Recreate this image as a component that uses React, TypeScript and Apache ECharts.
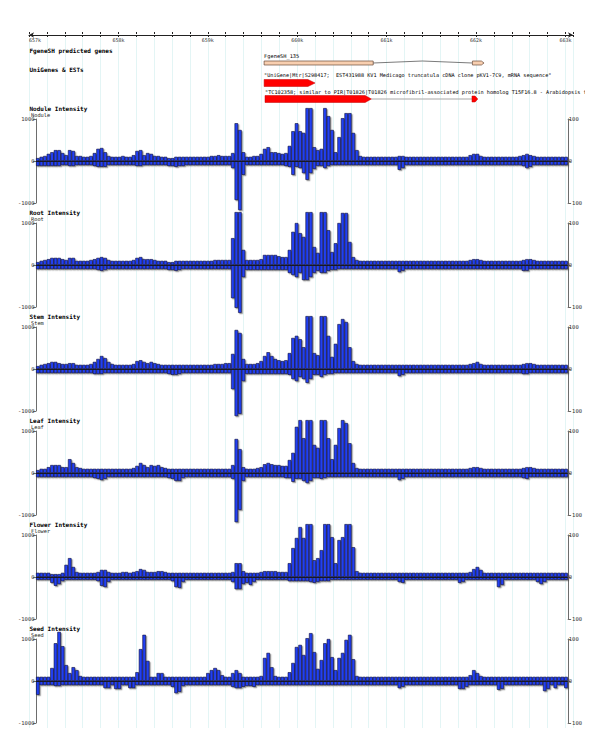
import { useEffect, useRef } from 'react';
import * as echarts from 'echarts';

// ---------- tracks ----------
const panelNames = ['Nodule', 'Root', 'Stem', 'Leaf', 'Flower', 'Seed'];
const rulerStart = 657000;
const rulerEnd = 663085;
const rulerStep = 200;

// gene & EST features (bp)
const geneExon1 = [659630, 660850];
const geneIntronPeak = 661400;
const geneExon2 = [661960, 662060, 662090];
const estBlock = [659630, 660120, 660200];
const tcBlock1 = [659640, 660760, 660830];
const tcGap = [660830, 661955];
const tcBlock2 = [661955, 661990, 662020];
const geneLabel = 'FgeneSH_135';
const estLabel = '"UniGene|Mtr|S298417;  EST431988 KV1 Medicago truncatula cDNA clone pKV1-7C9, mRNA sequence"';
const tcLabel = '"TC102358; similar to PIR|T01826|T01826 microfibril-associated protein homolog T15F16.8 - Arabidopsis thaliana"';

// ---------- intensities (150 bins per panel) ----------
const noduleUp = [
  70,100,120,170,210,260,260,190,140,260,240,120,120,100,100,
  120,190,290,310,210,120,100,100,100,120,100,100,140,240,260,
  140,190,170,120,120,100,100,70,70,100,100,100,100,100,100,
  100,100,100,100,120,120,140,120,120,120,190,900,740,210,100,
  100,120,120,170,290,330,210,210,190,170,190,360,710,900,710,
  670,1260,1260,330,260,290,1260,1070,740,210,570,1020,1140,1140,670,
  260,120,100,100,100,100,100,100,100,100,100,100,120,120,100,
  100,100,100,100,100,100,100,100,100,100,100,100,100,100,100,
  100,100,140,170,170,120,100,100,100,100,100,100,100,100,100,
  100,120,140,170,140,120,100,100,100,100,100,100,100,100,100,
];
const noduleDown = [
  -120,-120,-120,-120,-120,-120,-120,-100,-100,-120,-120,-100,-100,-100,-100,
  -100,-120,-140,-140,-140,-100,-100,-100,-100,-100,-100,-100,-100,-120,-120,
  -100,-100,-100,-100,-100,-100,-100,-120,-120,-140,-120,-120,-100,-100,-100,
  -100,-100,-100,-100,-100,-100,-100,-100,-100,-100,-170,-930,-1170,-330,-100,
  -100,-100,-100,-100,-100,-100,-100,-100,-100,-100,-120,-140,-330,-140,-170,
  -290,-450,-290,-190,-120,-120,-170,-120,-100,-100,-100,-100,-100,-100,-100,
  -100,-100,-100,-100,-100,-100,-100,-100,-100,-100,-100,-100,-210,-170,-100,
  -100,-100,-100,-100,-100,-100,-100,-100,-100,-100,-100,-100,-100,-100,-100,
  -100,-100,-100,-100,-100,-100,-100,-100,-100,-100,-100,-100,-100,-100,-100,
  -100,-100,-120,-170,-140,-100,-100,-100,-100,-100,-100,-100,-100,-100,-100,
];
const rootUp = [
  70,100,120,140,170,170,170,140,120,170,170,100,100,100,100,
  120,140,170,190,170,120,100,100,100,100,100,100,120,170,190,
  140,140,140,120,100,100,100,70,70,100,100,100,100,100,100,
  100,100,100,100,100,120,120,120,120,120,640,1260,1260,360,120,
  120,120,120,140,240,240,240,240,210,190,190,360,790,1000,760,
  670,1260,1260,430,290,1260,1260,830,310,520,1000,1240,1240,550,190,
  120,100,100,100,100,100,100,100,100,100,100,100,100,100,100,
  100,100,100,100,100,100,100,100,100,100,100,100,100,100,100,
  100,100,120,140,140,120,100,100,100,100,100,100,100,100,100,
  100,100,120,140,140,120,100,100,100,100,100,100,100,100,100,
];
const rootDown = [
  -100,-100,-100,-100,-100,-100,-100,-100,-100,-100,-100,-100,-100,-100,-100,
  -100,-100,-120,-140,-120,-100,-100,-100,-100,-100,-100,-100,-100,-100,-100,
  -100,-100,-100,-100,-100,-100,-100,-120,-120,-140,-120,-100,-100,-100,-100,
  -100,-100,-100,-100,-100,-100,-100,-100,-100,-100,-790,-1020,-1140,-290,-120,
  -120,-120,-120,-120,-120,-120,-120,-120,-120,-120,-120,-190,-240,-290,-190,
  -360,-360,-290,-190,-140,-190,-190,-140,-120,-120,-100,-100,-100,-100,-100,
  -100,-100,-100,-100,-100,-100,-100,-100,-100,-100,-100,-100,-170,-140,-100,
  -100,-100,-100,-100,-100,-100,-100,-100,-100,-100,-100,-100,-100,-100,-100,
  -100,-100,-100,-100,-100,-100,-100,-100,-100,-100,-100,-100,-100,-100,-100,
  -100,-100,-140,-140,-100,-100,-100,-100,-100,-100,-100,-100,-100,-100,-100,
];
const stemUp = [
  70,100,120,140,170,170,140,120,120,140,140,100,100,100,100,
  120,170,240,310,260,170,120,100,100,100,100,100,120,190,210,
  170,140,170,140,120,100,100,100,100,100,100,100,100,100,100,
  100,100,100,100,100,120,120,120,140,140,360,930,860,240,120,
  120,120,140,190,310,400,310,240,210,190,210,380,740,790,710,
  520,1260,1260,380,330,1260,1260,790,290,600,1070,1190,1120,520,190,
  120,100,100,100,100,100,100,100,100,100,100,100,100,100,100,
  100,100,100,100,100,100,100,100,100,100,100,100,100,100,100,
  100,100,120,140,170,120,100,100,100,100,100,100,100,100,100,
  100,100,120,140,140,120,100,100,100,100,100,100,100,100,100,
];
const stemDown = [
  -100,-100,-100,-100,-100,-100,-100,-100,-100,-100,-100,-100,-100,-100,-100,
  -100,-120,-120,-120,-100,-100,-100,-100,-100,-100,-100,-100,-100,-100,-100,
  -100,-100,-100,-100,-100,-100,-100,-120,-140,-140,-120,-100,-100,-100,-100,
  -100,-100,-100,-100,-100,-100,-100,-100,-100,-100,-480,-1120,-1070,-290,-120,
  -120,-120,-120,-120,-120,-120,-120,-120,-120,-120,-120,-140,-240,-290,-190,
  -240,-330,-240,-140,-140,-190,-140,-120,-120,-100,-100,-100,-100,-100,-100,
  -100,-100,-100,-100,-100,-100,-100,-100,-100,-100,-100,-100,-170,-140,-100,
  -100,-100,-100,-100,-100,-100,-100,-100,-100,-100,-100,-100,-100,-100,-100,
  -100,-100,-100,-100,-100,-100,-100,-100,-100,-100,-100,-100,-100,-100,-100,
  -100,-100,-120,-120,-100,-100,-100,-100,-100,-100,-100,-100,-100,-100,-100,
];
const leafUp = [
  70,100,100,140,190,190,190,140,140,330,240,140,120,100,100,
  100,100,100,100,100,100,100,100,100,100,100,100,120,170,240,
  190,140,190,170,190,140,120,100,100,100,100,100,100,100,100,
  100,100,100,100,100,100,100,100,100,100,190,810,570,140,100,
  100,100,120,140,210,240,210,190,190,170,170,310,480,1100,1260,
  830,1260,1260,670,600,1260,1260,830,330,670,1070,1260,1190,710,240,
  120,100,100,100,100,100,100,100,100,100,100,100,100,100,100,
  100,100,100,100,100,100,100,100,100,100,100,100,100,100,100,
  100,100,120,140,140,120,100,100,100,100,100,100,100,100,100,
  100,100,120,140,140,120,100,100,100,100,100,100,100,100,100,
];
const leafDown = [
  -100,-100,-100,-100,-100,-100,-100,-100,-100,-100,-100,-100,-100,-100,-100,
  -100,-120,-140,-170,-140,-100,-100,-100,-100,-100,-100,-100,-100,-100,-100,
  -100,-100,-100,-100,-100,-100,-100,-120,-140,-190,-190,-120,-100,-100,-100,
  -100,-100,-100,-100,-100,-100,-100,-100,-100,-100,-140,-1170,-880,-190,-100,
  -100,-100,-100,-100,-100,-100,-100,-100,-100,-100,-120,-120,-210,-140,-140,
  -190,-240,-190,-120,-120,-140,-120,-100,-100,-100,-100,-100,-100,-100,-100,
  -100,-100,-100,-100,-100,-100,-100,-100,-100,-100,-100,-100,-170,-140,-100,
  -100,-100,-100,-100,-100,-100,-100,-100,-100,-100,-100,-100,-100,-100,-100,
  -100,-100,-100,-100,-100,-100,-100,-100,-100,-100,-100,-100,-100,-100,-100,
  -100,-100,-120,-140,-100,-100,-100,-100,-100,-100,-100,-100,-100,-100,-100,
];
const flowerUp = [
  100,100,100,100,70,70,70,100,290,450,240,120,100,100,100,
  100,100,120,170,170,120,100,100,100,120,120,100,120,140,190,
  170,120,120,120,140,140,120,100,100,100,100,100,100,100,100,
  100,100,100,100,100,100,100,100,100,100,120,330,330,140,100,
  100,100,100,120,140,140,140,140,120,120,120,330,690,930,1190,
  930,1260,1260,400,450,640,1260,1260,950,330,880,950,1260,1260,710,
  140,100,100,100,100,100,100,100,100,100,100,100,100,100,100,
  100,100,100,100,100,100,100,100,100,100,100,100,100,100,100,
  100,100,120,190,240,170,100,100,100,100,100,100,100,100,100,
  100,100,100,100,100,100,100,100,100,100,100,100,100,100,100,
];
const flowerDown = [
  -70,-70,-70,-70,-140,-210,-170,-100,-70,-70,-70,-70,-70,-70,-70,
  -70,-70,-100,-210,-240,-120,-70,-70,-70,-70,-70,-70,-70,-70,-70,
  -70,-70,-70,-70,-70,-70,-70,-70,-100,-240,-260,-120,-70,-70,-70,
  -70,-70,-70,-70,-70,-70,-70,-70,-70,-70,-120,-290,-290,-170,-140,
  -190,-120,-70,-70,-70,-70,-70,-70,-70,-70,-70,-100,-100,-100,-100,
  -100,-100,-120,-140,-120,-100,-100,-100,-70,-70,-70,-70,-70,-70,-70,
  -70,-70,-70,-70,-70,-70,-70,-70,-70,-70,-70,-70,-120,-140,-70,
  -70,-70,-70,-70,-70,-70,-70,-70,-70,-70,-70,-70,-70,-70,-140,
  -120,-70,-70,-70,-70,-70,-70,-70,-70,-70,-240,-190,-70,-70,-70,
  -70,-70,-70,-70,-70,-70,-120,-170,-120,-70,-70,-70,-70,-70,-70,
];
const seedUp = [
  100,100,100,100,310,900,1170,830,380,190,330,260,120,100,100,
  100,100,100,100,100,100,100,100,100,100,100,100,100,210,760,
  1100,480,100,100,190,190,100,100,100,100,100,100,100,100,100,
  100,100,100,190,260,310,260,140,100,100,190,260,190,100,100,
  100,100,100,120,550,670,330,120,100,100,100,210,430,810,860,
  620,1020,1140,690,290,500,900,1000,570,260,550,670,980,1100,520,
  120,100,100,100,100,100,100,100,100,100,100,100,100,100,100,
  100,100,100,100,100,100,100,100,100,100,100,100,100,100,100,
  100,100,140,260,190,120,100,100,100,100,100,100,100,100,100,
  100,100,100,100,100,100,100,100,100,100,100,100,100,100,100,
];
const seedDown = [
  -330,-100,-100,-100,-100,-120,-120,-100,-100,-100,-100,-100,-100,-100,-100,
  -100,-100,-100,-100,-170,-170,-100,-190,-190,-100,-100,-170,-170,-100,-100,
  -100,-100,-100,-100,-100,-100,-100,-100,-140,-290,-260,-120,-100,-100,-100,
  -100,-100,-100,-100,-100,-100,-100,-100,-100,-100,-140,-170,-170,-140,-120,
  -120,-140,-100,-100,-100,-100,-100,-100,-100,-100,-100,-100,-100,-100,-100,
  -100,-100,-100,-100,-100,-100,-100,-100,-100,-100,-100,-100,-100,-100,-100,
  -100,-100,-100,-100,-100,-100,-100,-100,-100,-100,-100,-100,-170,-140,-100,
  -100,-100,-100,-100,-100,-100,-100,-100,-100,-100,-100,-100,-100,-100,-190,
  -190,-140,-100,-100,-100,-100,-100,-100,-100,-100,-210,-190,-100,-100,-100,
  -100,-100,-100,-100,-100,-100,-100,-100,-240,-190,-100,-170,-100,-100,-170,
];

const panelUp = [noduleUp, rootUp, stemUp, leafUp, flowerUp, seedUp];
const panelDown = [noduleDown, rootDown, stemDown, leafDown, flowerDown, seedDown];

const MONO = '"DejaVu Sans Mono", monospace';
const BAR_FILL = '#2240f2';

export default function App() {
  const ref = useRef<HTMLDivElement>(null);
  useEffect(() => {
    if (!ref.current) return;
    const chart = echarts.init(ref.current, null, { renderer: 'svg' });
    const nBins = noduleUp.length;
    const cats = Array.from({ length: nBins }, (_, i) => String(i));

    const grids: any[] = [
      { left: 14, width: 544, top: 34, height: 1 },
      { left: 14, width: 544, top: 38, height: 690 },
    ];
    const xAxes: any[] = [
      {
        type: 'value', gridIndex: 0, position: 'bottom', min: rulerStart, max: rulerEnd, interval: rulerStep,
        axisLine: { show: true, lineStyle: { color: '#222', width: 1 }, symbol: ['arrow', 'arrow'], symbolSize: [4, 5] },
        axisTick: { show: true, length: 2, lineStyle: { color: '#222' } },
        axisLabel: {
          show: true, fontSize: 5, fontFamily: MONO, color: '#333', margin: 2, alignMinLabel: 'left',
          formatter: (v: number) => (v % 1000 === 0 ? `${v / 1000}k` : ''),
        },
        splitLine: { show: false },
      },
      {
        type: 'value', gridIndex: 0, position: 'top', min: rulerStart, max: rulerEnd, interval: rulerStep,
        axisLine: { show: false }, axisTick: { show: true, length: 2, lineStyle: { color: '#222' } },
        axisLabel: { show: false }, splitLine: { show: false },
      },
      {
        type: 'value', gridIndex: 1, min: rulerStart, max: rulerEnd, interval: rulerStep,
        axisLine: { show: false }, axisTick: { show: false }, axisLabel: { show: false },
        splitLine: { show: true, lineStyle: { color: '#e3f5f5', width: 1 } },
      },
    ];
    const yAxes: any[] = [
      { type: 'value', gridIndex: 0, show: false },
      { type: 'value', gridIndex: 1, show: false, splitLine: { show: false } },
    ];
    const series: any[] = [];
    const graphics: any[] = [];
    const plain = (v: number) => String(v);

    panelNames.forEach((name, k) => {
      const top = 119 + 104 * k;
      grids.push({ left: 15, width: 540, top, height: 84 });
      xAxes.push({ type: 'category', gridIndex: 2 + k, data: cats, show: false });
      const axisCol = '#6d6d6d';
      yAxes.push({
        type: 'value', gridIndex: 2 + k, position: 'left', min: -1000, max: 1000, interval: 1000,
        axisLine: { show: true, lineStyle: { color: axisCol, width: 1 } },
        axisTick: { show: true, length: 3, lineStyle: { color: axisCol } },
        axisLabel: { fontSize: 5.5, fontFamily: MONO, color: '#333', margin: 1.5, formatter: plain },
        splitLine: { show: false },
      });
      yAxes.push({
        type: 'value', gridIndex: 2 + k, position: 'right', min: -100, max: 100, interval: 100,
        axisLine: { show: true, lineStyle: { color: axisCol, width: 1 } },
        axisTick: { show: true, length: 3, lineStyle: { color: axisCol } },
        axisLabel: { fontSize: 5.5, fontFamily: MONO, color: '#333', margin: 1, formatter: plain },
        splitLine: { show: false },
      });
      const itemStyle = {
        color: BAR_FILL, borderColor: '#0b0b35', borderWidth: 0.6,
        shadowColor: 'rgba(60,60,60,0.55)', shadowOffsetX: 1.2, shadowOffsetY: 1.2, shadowBlur: 0,
      };
      series.push({
        type: 'bar', xAxisIndex: 3 + k, yAxisIndex: 2 + 2 * k, data: panelUp[k], stack: 's' + k,
        barCategoryGap: '0%', clip: false, silent: true, itemStyle, z: 3,
        markLine: {
          silent: true, symbol: 'none', label: { show: false }, z: 5,
          lineStyle: { color: '#111', width: 0.8, type: 'solid' }, data: [{ yAxis: 0 }],
        },
      });
      series.push({
        type: 'bar', xAxisIndex: 3 + k, yAxisIndex: 2 + 2 * k, data: panelDown[k], stack: 's' + k,
        barCategoryGap: '0%', clip: false, silent: true, itemStyle, z: 3,
      });
      graphics.push({
        type: 'text', left: 14.5, top: top - 14, silent: true,
        style: { text: `${name} Intensity`, font: `bold 6px ${MONO}`, fill: '#000' },
      });
      graphics.push({
        type: 'text', left: 16, top: top - 7, silent: true,
        style: { text: name, font: `5.3px ${MONO}`, fill: '#222' },
      });
    });

    graphics.push({ type: 'text', left: 14.5, top: 47, silent: true, style: { text: 'FgeneSH predicted genes', font: `bold 6px ${MONO}`, fill: '#000' } });
    graphics.push({ type: 'text', left: 14.5, top: 66.5, silent: true, style: { text: 'UniGenes & ESTs', font: `bold 6px ${MONO}`, fill: '#000' } });

    chart.setOption({
      animation: false,
      grid: grids,
      xAxis: xAxes,
      yAxis: yAxes,
      series,
      graphic: graphics,
    });

    const X = (bp: number) => chart.convertToPixel({ xAxisIndex: 0 }, bp) as number;
    const feat: any[] = [
      { type: 'rect', silent: true, shape: { x: X(geneExon1[0]), y: 61, width: X(geneExon1[1]) - X(geneExon1[0]), height: 4 }, style: { fill: '#f8cfb0', stroke: '#6a4a3a', lineWidth: 0.7 } },
      { type: 'polyline', silent: true, shape: { points: [[X(geneExon1[1]), 63], [X(geneIntronPeak), 61], [X(geneExon2[0]), 63]] }, style: { stroke: '#222', lineWidth: 0.6, fill: null } },
      { type: 'polygon', silent: true, shape: { points: [[X(geneExon2[0]), 61], [X(geneExon2[1]), 61], [X(geneExon2[2]), 63], [X(geneExon2[1]), 65], [X(geneExon2[0]), 65]] }, style: { fill: '#f8cfb0', stroke: '#6a4a3a', lineWidth: 0.7 } },
      { type: 'text', silent: true, x: X(geneExon1[0]), y: 53.5, style: { text: geneLabel, font: `5.3px ${MONO}`, fill: '#000' } },
      { type: 'text', silent: true, x: X(estBlock[0]), y: 72.5, style: { text: estLabel, font: `5.2px ${MONO}`, fill: '#000' } },
      { type: 'polygon', silent: true, shape: { points: [[X(estBlock[0]), 79.5], [X(estBlock[1]), 79.5], [X(estBlock[2]), 83], [X(estBlock[1]), 86.5], [X(estBlock[0]), 86.5]] }, style: { fill: '#ff0000', stroke: '#c00000', lineWidth: 0.5 } },
      { type: 'text', silent: true, x: X(tcBlock1[0]), y: 89.5, style: { text: tcLabel, font: `5.2px ${MONO}`, fill: '#000' } },
      { type: 'line', silent: true, shape: { x1: X(tcGap[0]), y1: 99, x2: X(tcGap[1]), y2: 99 }, style: { stroke: '#a8a8a8', lineWidth: 1.2 } },
      { type: 'polygon', silent: true, shape: { points: [[X(tcBlock1[0]), 95.5], [X(tcBlock1[1]), 95.5], [X(tcBlock1[2]), 99], [X(tcBlock1[1]), 102.5], [X(tcBlock1[0]), 102.5]] }, style: { fill: '#ff0000', stroke: '#c00000', lineWidth: 0.5 } },
      { type: 'polygon', silent: true, shape: { points: [[X(tcBlock2[0]), 96], [X(tcBlock2[1]), 96], [X(tcBlock2[2]), 99], [X(tcBlock2[1]), 102], [X(tcBlock2[0]), 102]] }, style: { fill: '#ff0000', stroke: '#c00000', lineWidth: 0.5 } },
    ];
    chart.setOption({ graphic: [...graphics, ...feat] }, { replaceMerge: ['graphic'] });

    return () => chart.dispose();
  }, []);
  return (
    <div
      ref={ref}
      style={{ position: 'absolute', left: 15, top: 0, width: 570, height: 747, background: '#fff' }}
    />
  );
}
